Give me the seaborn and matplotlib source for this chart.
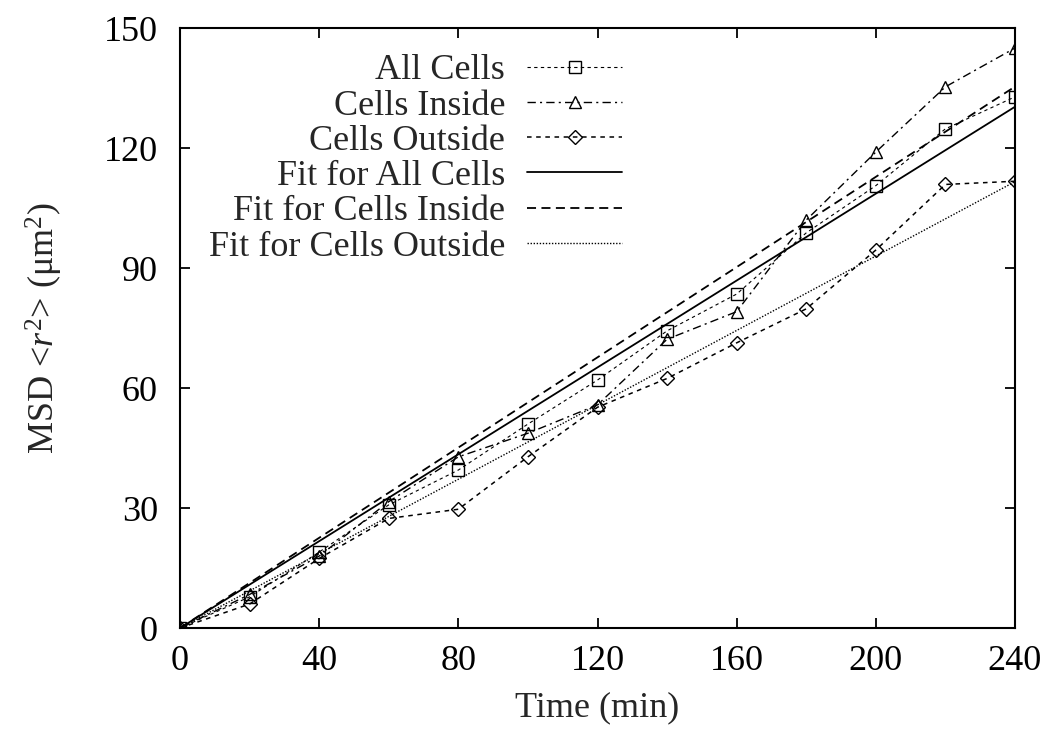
import numpy as np
import pandas as pd
import matplotlib
matplotlib.use("Agg")
import matplotlib.pyplot as plt
import seaborn as sns

# Mean squared displacement measured every 20 minutes
time_min = [0, 20, 40, 60, 80, 100, 120, 140, 160, 180, 200, 220, 240]
msd_all = [0, 7.8, 19.0, 30.8, 39.5, 51.0, 62.0, 74.3, 83.5, 98.8, 110.6, 124.8, 132.8]
msd_inside = [0, 8.4, 18.0, 31.6, 42.8, 48.7, 55.8, 72.2, 79.1, 102.0, 119.0, 135.3, 145.0]
msd_outside = [0, 6.0, 17.4, 27.4, 29.7, 42.8, 55.2, 62.4, 71.3, 79.8, 94.5, 110.9, 111.7]

# Slopes of the linear fits (MSD = slope * t)
fit_slope_all = 0.543
fit_slope_inside = 0.564
fit_slope_outside = 0.465
fit_range = [0, 240]

x_ticks = [0, 40, 80, 120, 160, 200, 240]
y_ticks = [0, 30, 60, 90, 120, 150]

sns.set_theme(style="ticks")
plt.rcParams["font.family"] = ["Liberation Serif", "DejaVu Serif"]
plt.rcParams["mathtext.fontset"] = "custom"
plt.rcParams["mathtext.rm"] = "Liberation Serif"
plt.rcParams["mathtext.it"] = "Liberation Serif:italic"

FS = 26

fig = plt.figure(figsize=(10.48, 7.38), dpi=100)
ax = fig.add_axes([0.1718, 0.149, 0.7967, 0.813])

df = pd.DataFrame({"t": time_min, "all": msd_all,
                   "inside": msd_inside, "outside": msd_outside})

mk = dict(markerfacecolor="none", markeredgecolor="black",
          markeredgewidth=1.0, color="black")

sns.lineplot(data=df, x="t", y="all", ax=ax, marker="s", markersize=9,
             linestyle=(0, (3, 3)), linewidth=0.8, label="All Cells", **mk)
sns.lineplot(data=df, x="t", y="inside", ax=ax, marker="^", markersize=9,
             linestyle=(0, (6, 3, 1.5, 3)), linewidth=1.0,
             label="Cells Inside", **mk)
sns.lineplot(data=df, x="t", y="outside", ax=ax, marker="D", markersize=7,
             linestyle=(0, (3, 3)), linewidth=1.1,
             label="Cells Outside", **mk)

fx = np.array(fit_range, dtype=float)
fits = pd.DataFrame({"t": fx,
                     "all": fit_slope_all * fx,
                     "inside": fit_slope_inside * fx,
                     "outside": fit_slope_outside * fx})
sns.lineplot(data=fits, x="t", y="all", ax=ax, color="black",
             linewidth=1.3, linestyle="-", label="Fit for All Cells")
sns.lineplot(data=fits, x="t", y="inside", ax=ax, color="black",
             linewidth=1.3, linestyle=(0, (5, 3)),
             label="Fit for Cells Inside")
sns.lineplot(data=fits, x="t", y="outside", ax=ax, color="black",
             linewidth=1.0, linestyle=(0, (1, 1.2)),
             label="Fit for Cells Outside")

ax.set_xlim(0, 240)
ax.set_ylim(0, 150)
ax.set_xticks(x_ticks)
ax.set_yticks(y_ticks)
ax.tick_params(direction="in", length=7, width=1.3, top=True, right=True,
               labelsize=FS, colors="black")
ax.tick_params(axis="y", pad=16)
ax.tick_params(axis="x", pad=12)
for s in ax.spines.values():
    s.set_linewidth(1.5)
    s.set_color("black")

ax.set_xlabel("Time (min)", fontsize=FS, labelpad=10)
ax.set_ylabel(r"MSD <$\mathit{r}^2$> (μm$^2$)", fontsize=FS, labelpad=28)

leg = ax.legend(loc="upper right", bbox_to_anchor=(622 / 1048, 1 - 54 / 738),
                bbox_transform=fig.transFigure, frameon=False,
                markerfirst=False, fontsize=FS, handlelength=2.63,
                handletextpad=0.61, labelspacing=0.055, borderpad=0,
                borderaxespad=0, numpoints=1)
for t in leg.get_texts():
    t.set_ha("right")

fig.savefig("out.png", dpi=100)
